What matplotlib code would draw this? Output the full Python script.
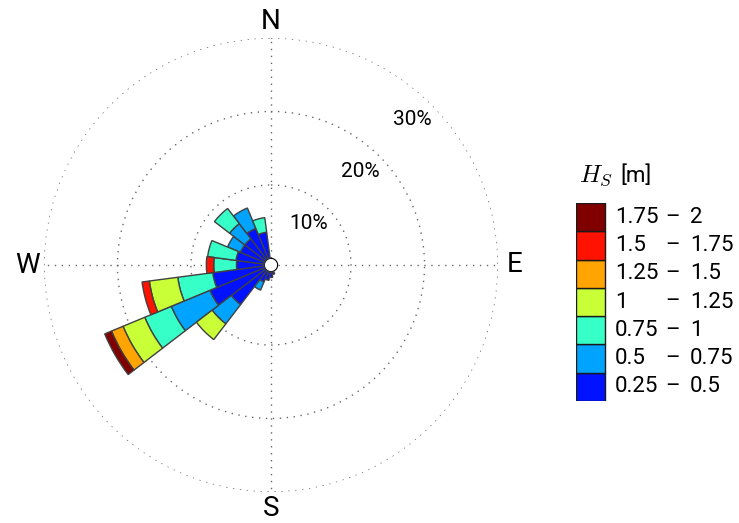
import numpy as np
import matplotlib.pyplot as plt

plt.rcParams['font.family'] = ['Roboto', 'DejaVu Sans']
plt.rcParams['mathtext.fontset'] = 'cm'

# direction bins (deg, clockwise from N) and frequency (%) per Hs class
directions = np.arange(0, 360, 15)
hs_bins = ['0.25', '0.5', '0.75', '1', '1.25', '1.5', '1.75', '2']

#                0  15  30  45  60  75  90 105 120 135 150 165 180 195 210 225 240 255 270 285 300 315 330 345
hs_025_050 = [0.0, 0, 0, 0, 0, 0, 0, 0, 0, 0, 0, 0.4, 0.8, 1.2, 1.6, 5.9, 8.1, 7.1, 3.8, 3.9, 3.6, 3.6, 4.5, 3.6]
hs_050_075 = [0.0, 0, 0, 0, 0, 0, 0, 0, 0, 0, 0, 0.0, 0.0, 0.0, 1.2, 3.3, 5.7, 0.0, 0.0, 0.0, 1.9, 2.6, 3.0, 0.0]
hs_075_100 = [0.0, 0, 0, 0, 0, 0, 0, 0, 0, 0, 0, 0.0, 0.0, 0.0, 0.0, 0.0, 3.9, 4.8, 3.1, 3.9, 0.0, 2.6, 0.0, 2.0]
hs_100_125 = [0.0, 0, 0, 0, 0, 0, 0, 0, 0, 0, 0, 0.0, 0.0, 0.0, 0.0, 2.7, 3.2, 3.9, 0.0, 0.0, 0.0, 0.0, 0.0, 0.0]
hs_125_150 = [0.0, 0, 0, 0, 0, 0, 0, 0, 0, 0, 0, 0.0, 0.0, 0.0, 0.0, 0.0, 1.7, 0.0, 0.0, 0.0, 0.0, 0.0, 0.0, 0.0]
hs_150_175 = [0.0, 0, 0, 0, 0, 0, 0, 0, 0, 0, 0, 0.0, 0.0, 0.0, 0.0, 0.0, 0.0, 1.0, 1.0, 0.0, 0.0, 0.0, 0.0, 0.0]
hs_175_200 = [0.0, 0, 0, 0, 0, 0, 0, 0, 0, 0, 0, 0.0, 0.0, 0.0, 0.0, 0.0, 1.0, 0.0, 0.0, 0.0, 0.0, 0.0, 0.0, 0.0]

freqs = [hs_025_050, hs_050_075, hs_075_100, hs_100_125, hs_125_150, hs_150_175, hs_175_200]


def matlab_jet(x):
    # MATLAB-style jet (breakpoints at 1/8, 3/8, 5/8, 7/8)
    x = np.asarray(x)
    r = np.clip(1.5 - np.abs(4 * x - 3), 0, 1)
    g = np.clip(1.5 - np.abs(4 * x - 2), 0, 1)
    b = np.clip(1.5 - np.abs(4 * x - 1), 0, 1)
    return np.column_stack([r, g, b])


colors = matlab_jet(np.arange(1, 8) / 7)

fig = plt.figure(figsize=(7.39, 5.23), dpi=100)
ax = fig.add_axes([44 / 739, 31 / 523, 454 / 739, 454 / 523], projection='polar')
ax.set_theta_zero_location('N')
ax.set_theta_direction(-1)

theta = np.deg2rad(directions)
width = np.deg2rad(15)
bottom = np.zeros(len(directions))
for vals, col in zip(freqs, colors):
    vals = np.array(vals)
    m = vals > 0
    ax.bar(theta[m], vals[m], bottom=bottom[m], width=width, color=col,
           edgecolor='0.25', linewidth=1.0, zorder=3)
    bottom += vals

ax.set_ylim(0, 30)
ax.set_rorigin(-0.9)
ax.set_yticks([10, 20, 30])
ax.set_yticklabels([])
ax.set_xticks(np.deg2rad([0, 90, 180, 270]))
ax.set_xticklabels([])
ax.grid(True, linestyle=(0, (1, 4)), color='0.4', linewidth=1.0)
ax.spines['polar'].set_visible(False)

# compass labels
for ang, lab in zip([0, 90, 180, 270], ['N', 'E', 'S', 'W']):
    ax.text(np.deg2rad(ang), 32.2, lab, ha='center', va='center', fontsize=20, clip_on=False)

# radial labels
for r in [10, 20, 30]:
    ax.annotate(f'{r}%', xy=(np.deg2rad(45), r), xytext=(0, -4), textcoords='offset points',
                ha='right', va='top', fontsize=15, zorder=4)

# legend
lax = fig.add_axes([576 / 739, (523 - 401) / 523, 163 / 739, 198 / 523])
lax.set_xlim(0, 163)
lax.set_ylim(0, 7)
lax.axis('off')
for i, col in enumerate(colors):
    lax.bar(0, 1, bottom=i, width=29, align='edge', color=col, edgecolor='0.1', linewidth=1.0)
    lax.text(39, i + 0.5, hs_bins[i], ha='left', va='center', fontsize=16)
    lax.text(97, i + 0.5, '–', ha='center', va='center', fontsize=16)
    lax.text(114, i + 0.5, hs_bins[i + 1], ha='left', va='center', fontsize=16)
lax.text(37, 7.74, '$H_S$', ha='right', va='baseline', fontsize=18, clip_on=False)
lax.text(44, 7.74, '[m]', ha='left', va='baseline', fontsize=16, clip_on=False)

fig.savefig('out.png', dpi=100)
